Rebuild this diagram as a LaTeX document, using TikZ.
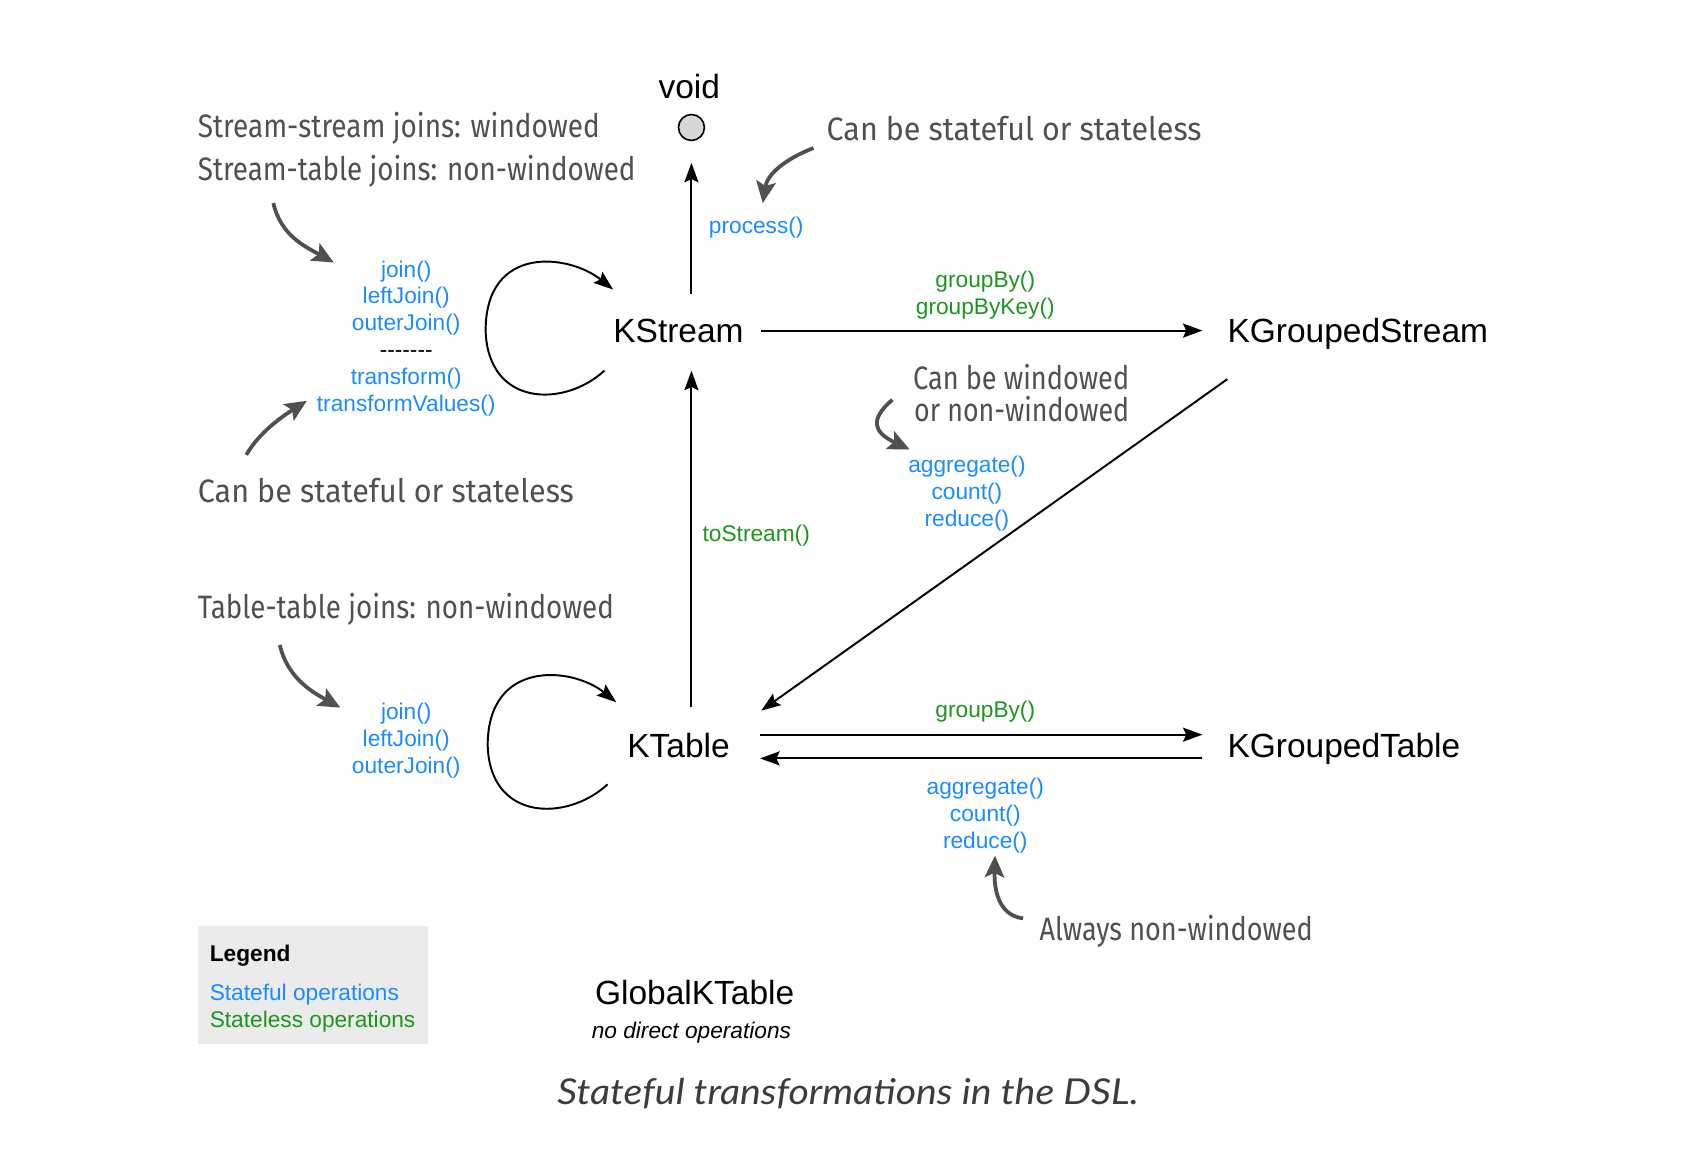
\documentclass[tikz,border=0pt]{standalone}
\usepackage{fontspec}
\setmainfont{Liberation Sans}
\newfontfamily\hand{Fira Sans}
\newfontfamily\capf{Lato}
\usetikzlibrary{arrows.meta}
\definecolor{opblue}{RGB}{26,140,255}
\definecolor{opgreen}{RGB}{30,150,30}
\definecolor{handgray}{RGB}{80,80,80}
\definecolor{legendbg}{RGB}{235,235,235}
\definecolor{capgray}{RGB}{60,60,60}
\definecolor{voidfill}{RGB}{215,215,215}
\newcommand{\hw}[2]{\resizebox{#1}{\height}{#2}}
\begin{document}
\begin{tikzpicture}[x=1pt,y=-1pt,
  main/.style={inner sep=0pt, text height=22pt, text depth=0pt, font=\fontsize{31}{36}\selectfont},
  ops/.style={inner sep=0pt, align=center, font=\fontsize{21}{24.8}\selectfont},
  stateful/.style={ops, text=opblue},
  stateless/.style={ops, text=opgreen},
  note/.style={inner sep=0pt, anchor=west, text=handgray, font=\hand\fontsize{30}{33}\selectfont},
  legtext/.style={inner sep=0pt, anchor=west, font=\fontsize{21}{24}\selectfont},
  arr/.style={line width=1.8pt, -{Stealth[length=18pt,width=13pt,inset=3pt]}},
  notearr/.style={line width=3.5pt, draw=handgray, -{Stealth[length=20pt,width=18pt,inset=4pt]}},
]
\path[use as bounding box, fill=white] (0,0) rectangle (1568,1083);

% main nodes
\node[main, anchor=base] (ks) at (628,317) {KStream};
\node[main, anchor=base west] (kgs) at (1136,317) {KGroupedStream};
\node[main, anchor=base] (kt) at (628,701) {KTable};
\node[main, anchor=base west] (kgt) at (1136,701) {KGroupedTable};
\node[circle, draw, line width=1.5pt, fill=voidfill, minimum size=24pt, inner sep=0pt] (vd) at (640,118) {};
\node[main, anchor=base] (voidlbl) at (638,91) {void};
\node[main, anchor=base] (gkt) at (643,930) {GlobalKTable};
\node[inner sep=0pt, anchor=base, font=\fontsize{21}{24}\selectfont\itshape] (nodirect) at (640,961) {no direct operations};

% connectors
\draw[arr, shorten <=23pt, shorten >=20pt] (ks.north -| vd.south) -- (vd.south);
\draw[arr, shorten <=24pt, shorten >=26pt] (kt.north -| vd.south) -- (ks.south -| vd.south);
\draw[arr, shorten <=16pt, shorten >=23pt] (ks.east) -- (kgs.west);
\draw[arr, shorten <=28pt, shorten >=23pt] ([yshift=10pt]kt.east) -- ([yshift=10pt]kgt.west);
\draw[arr, shorten <=23pt, shorten >=28pt] ([yshift=-12pt]kgt.west) -- ([yshift=-12pt]kt.east);
\draw[arr] ([yshift=-45pt]kgs.west) -- ([xshift=29pt,yshift=21pt]kt.north east);
% self loops
\draw[arr] ([xshift=-8pt,yshift=-37pt]ks.west) .. controls +(-38,35) and +(2,70) .. ([xshift=-118pt]ks.west)
  .. controls +(0,-80) and +(-41,-33) .. ([yshift=38pt]ks.west);
\draw[arr] ([xshift=-18pt,yshift=-36pt]kt.west) .. controls +(-38,35) and +(2,70) .. ([xshift=-129pt]kt.west)
  .. controls +(0,-80) and +(-41,-33) .. ([xshift=-10pt,yshift=40pt]kt.west);

% operation labels
\node[stateful] (proc) at (700,211) {process()};
\node[stateless] (gb1) at (912,273.5) {groupBy()\\groupByKey()};
\node[stateful] (agg1) at (895,457) {aggregate()\\count()\\reduce()};
\node[stateless] (tos) at (700,496) {toStream()};
\node[stateful] (ksops) at (376,313) {join()\\leftJoin()\\outerJoin()\\{\color{black}-{}-{}-{}-{}-{}-{}-}\\transform()\\transformValues()};
\node[stateful] (ktops) at (376,685.5) {join()\\leftJoin()\\outerJoin()};
\node[stateless] (gb2) at (912,659) {groupBy()};
\node[stateful] (agg2) at (912,755) {aggregate()\\count()\\reduce()};

% handwritten notes
\node[note] (n1) at (183,119) {\hw{372pt}{Stream-stream joins: windowed}};
\node[note] (n2) at (183,159) {\hw{405pt}{Stream-table joins: non-windowed}};
\node[note] (n3) at (765,119) {\hw{347pt}{Can be stateful or stateless}};
\node[note] (n4) at (183,454) {\hw{348pt}{Can be stateful or stateless}};
\node[note] (n5) at (183,564) {\hw{385pt}{Table-table joins: non-windowed}};
\node[note] (n6) at (845,349) {\hw{200pt}{Can be windowed}};
\node[note] (n7) at (846,379) {\hw{199pt}{or non-windowed}};
\node[note] (n8) at (962,862) {\hw{253pt}{Always non-windowed}};

% note arrows
\coordinate (a1s) at (753,137); \coordinate (a1e) at (706,188);
\draw[notearr] (a1s) .. controls (725,148) and (710,162) .. (a1e);
\coordinate (a2s) at (253,188); \coordinate (a2e) at (309,243);
\draw[notearr] (a2s) .. controls (260,218) and (282,228) .. (a2e);
\coordinate (a3s) at (228,421); \coordinate (a3e) at (284,371);
\draw[notearr] (a3s) .. controls (240,400) and (262,385) .. (a3e);
\coordinate (a4s) at (826,370); \coordinate (a4e) at (842,416);
\draw[notearr] (a4s) .. controls (805,388) and (808,400) .. (a4e);
\coordinate (a5s) at (259,597); \coordinate (a5e) at (315,655);
\draw[notearr] (a5s) .. controls (266,627) and (288,640) .. (a5e);
\coordinate (a6s) at (947,850); \coordinate (a6e) at (921,792);
\draw[notearr] (a6s) .. controls (928,848) and (920,830) .. (a6e);

% legend
\node[fill=legendbg, minimum width=213pt, minimum height=109pt, inner sep=0pt, anchor=north west] (legend) at (183,857) {};
\node[legtext, font=\fontsize{21}{24}\selectfont\bfseries] (legt) at (194,885) {Legend};
\node[legtext, text=opblue] (lsf) at (194,921) {Stateful operations};
\node[legtext, text=opgreen] (lsl) at (194,946) {Stateless operations};

% caption
\node[inner sep=0pt, text=capgray, font=\capf\itshape\fontsize{33}{36}\selectfont] (cap) at (785,1012) {\hw{538pt}{Stateful transformations in the DSL.}};
\end{tikzpicture}
\end{document}
